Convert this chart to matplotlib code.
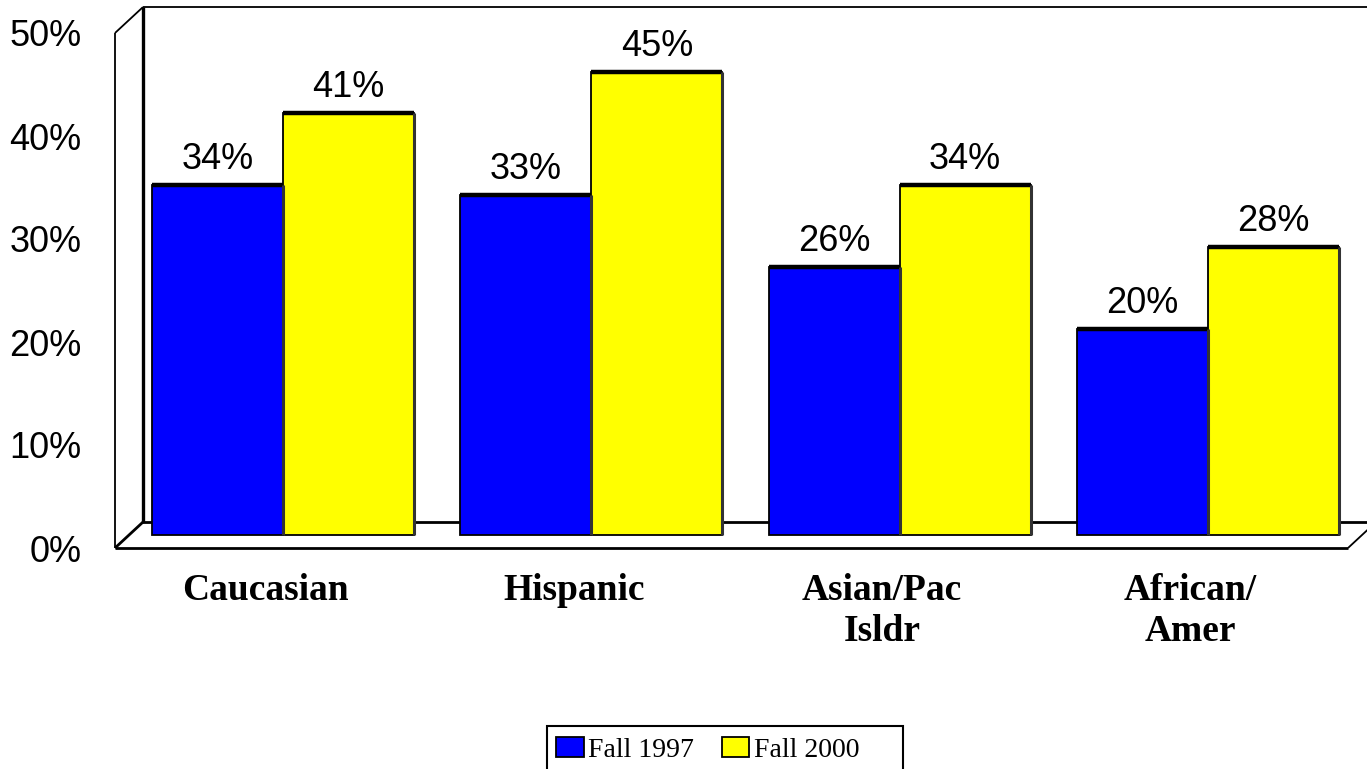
import matplotlib

matplotlib.use("Agg")

import matplotlib.pyplot as plt
import numpy as np
from matplotlib.patches import Rectangle

# Data.
categories = ["Caucasian", "Hispanic", "Asian/Pac\nIsldr", "African/\nAmer"]
fall_1997 = [34, 33, 26, 20]
fall_2000 = [41, 45, 34, 28]
yticks = [0, 10, 20, 30, 40, 50]

BLUE = "#0000FF"
YELLOW = "#FFFF00"
SANS = ["Liberation Sans", "Arial", "DejaVu Sans"]
SERIF = ["Liberation Serif", "Times New Roman", "DejaVu Serif"]

# Fake 3-D depth (in data units): back wall is up and to the right.
DX = 0.0908
DY = 2.52
W = 0.425

W_PX, H_PX = 1367, 769
fig = plt.figure(figsize=(W_PX / 100, H_PX / 100), dpi=100)
ax = fig.add_axes([115 / W_PX, 1 - 548 / H_PX, 1233 / W_PX, 515 / H_PX])
ax.set_xlim(-0.5, 3.5)
ax.set_ylim(0, 50)
for s in ax.spines.values():
    s.set_visible(False)

x = np.arange(len(categories))
x0, x1, top = -0.5, 3.5, yticks[-1]

# back floor line sits behind the bars
ax.plot([x0 + DX, x1 + DX + 0.2], [DY, DY], color="black", lw=2.0,
        clip_on=False, zorder=1)

# bars at mid depth
b1 = ax.bar(x + DX / 2 - W / 2, fall_1997, W, bottom=DY / 2, color=BLUE,
            edgecolor="black", lw=1.3, label="Fall 1997", zorder=3)
b2 = ax.bar(x + DX / 2 + W / 2, fall_2000, W, bottom=DY / 2, color=YELLOW,
            edgecolor="black", lw=1.3, label="Fall 2000", zorder=3)
# darker top edge like the Excel 3-D bar caps
for xs, vals in [(x + DX / 2 - W / 2, fall_1997), (x + DX / 2 + W / 2, fall_2000)]:
    ax.hlines(np.array(vals) + DY / 2, xs - W / 2, xs + W / 2, color="black",
              lw=3.2, zorder=4)
    # slight shadow on the right side of each bar
    ax.vlines(xs + W / 2, DY / 2, np.array(vals) + DY / 2, color="#333333",
              lw=2.2, zorder=4)

# walls and floor outline
lines = [
    ([x0, x0], [0, top], 1.3),                      # front-left edge
    ([x0 + DX, x0 + DX], [DY, top + DY], 2.4),      # back-left edge
    ([x0, x0 + DX], [top, top + DY], 1.3),          # top diagonal
    ([x0 + DX, x1 + DX + 0.2], [top + DY, top + DY], 1.3),  # back wall top
    ([x0, x0 + DX], [0, DY], 2.0),                  # floor left diagonal
    ([x0, x1], [0, 0], 2.0),                        # floor front edge
    ([x1, x1 + DX], [0, DY], 1.3),                  # floor right diagonal
]
for xs, ys, lw in lines:
    ax.plot(xs, ys, color="black", lw=lw, clip_on=False, zorder=2,
            solid_capstyle="butt")

# value labels
for xs, vals in [(x + DX / 2 - W / 2, fall_1997), (x + DX / 2 + W / 2, fall_2000)]:
    for xi, v in zip(xs, vals):
        ax.annotate(f"{v}%", (xi, v + DY / 2), xytext=(0, 11.5),
                    textcoords="offset points", ha="center", va="baseline",
                    fontsize=26, family=SANS, zorder=5)

# y ticks
ax.set_yticks(yticks)
ax.set_yticklabels([f"{t}%" for t in yticks], fontsize=26, family=SANS)
ax.tick_params(axis="y", length=0, pad=24)
ax.set_xticks([])

# category labels
for xi, lab in zip(x, categories):
    ax.annotate(lab, (xi - 0.012, 0), xytext=(0, -18), textcoords="offset points",
                ha="center", va="top", fontsize=27, fontweight="bold",
                family=SERIF, linespacing=1.22, annotation_clip=False)

# legend, frame runs off the bottom of the picture
fig.legend(handles=[b1, b2], loc="center left",
           bbox_to_anchor=(556 / W_PX, 1 - 750 / H_PX), ncol=2, frameon=False,
           borderpad=0, borderaxespad=0, handlelength=1.0, handleheight=0.7,
           handletextpad=0.15, columnspacing=1.0,
           prop={"family": SERIF, "size": 20})
fig.add_artist(Rectangle((547 / W_PX, -0.05), (903 - 547) / W_PX,
                         (769 - 726) / H_PX + 0.05, transform=fig.transFigure,
                         fill=False, edgecolor="black", lw=1.5))

fig.savefig("out.png", dpi=100, facecolor="white")
